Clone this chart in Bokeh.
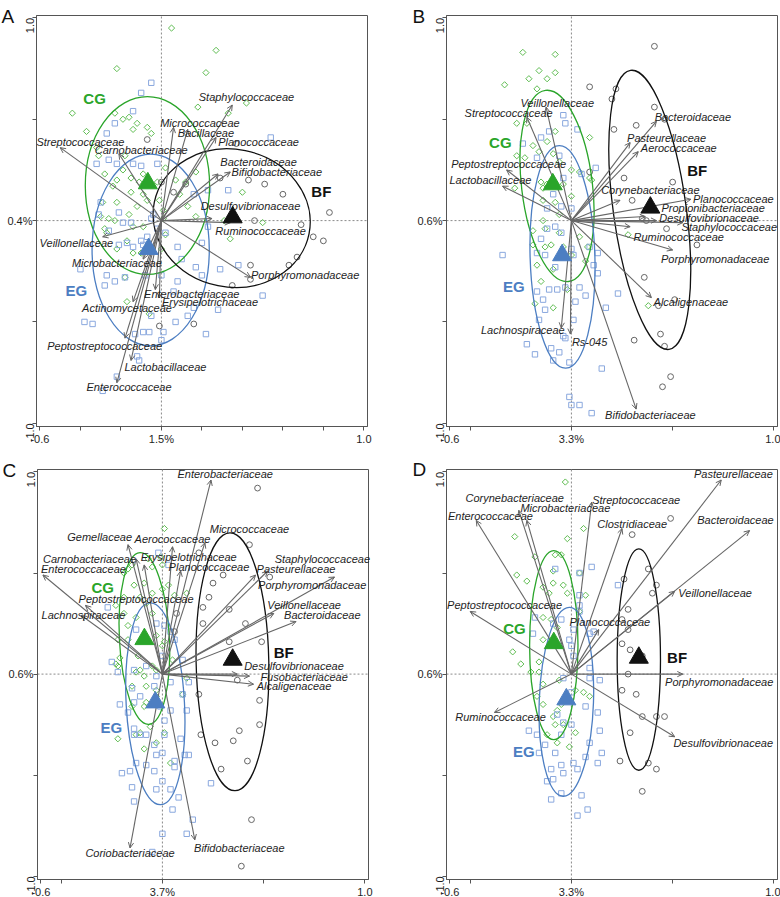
import math
from bokeh.plotting import figure
from bokeh.models import Range1d, FixedTicker, ColumnDataSource, CustomJSTickFormatter
from bokeh.layouts import row, column
from bokeh.embed import file_html
from bokeh.resources import INLINE
from bokeh.core.properties import value

FONT = "Liberation Sans"

# ---------------- Panel A ----------------
A_cg = [(0.05,0.95),(0.27,0.84),(-0.22,0.75),(0.22,0.73),(-0.44,0.53),(-0.37,0.44),(-0.23,0.53),(-0.19,0.50),(-0.16,0.51),(-0.12,0.48),(-0.14,0.45),(-0.07,0.46),(-0.05,0.43),(0.18,0.56),(0.33,0.53),(0.42,0.58),(-0.32,0.36),(-0.31,0.32),(-0.18,0.32),(-0.28,0.23),(-0.19,0.25),(-0.15,0.21),(-0.22,0.20),(-0.15,0.14),(-0.09,0.13),(-0.02,0.19),(0.02,0.26),(0.07,0.20),(0.09,0.13),(0.12,0.19),(0.17,0.24),(0.13,0.07),(0.17,0.02),(-0.01,0.10),(0.01,0.05),(0.02,-0.07),(-0.29,0.09),(-0.22,0.09),(-0.30,0.02),(-0.26,0.01),(-0.23,0.00),(-0.16,0.03),(-0.12,0.07),(-0.09,-0.03),(-0.28,-0.04),(-0.27,-0.06),(-0.14,-0.03),(-0.17,-0.10),(-0.22,-0.14),(-0.14,-0.16),(-0.10,-0.16),(-0.18,-0.28),(-0.17,-0.40),(-0.06,-0.46),(0.00,-0.14),(0.40,0.14),(0.50,-0.01),(0.34,-0.09),(0.31,0.00),(-0.11,0.19),(-0.24,0.17),(-0.09,0.23),(-0.07,0.10),(0.01,0.01)]
A_eg = [(-0.05,0.68),(-0.10,0.63),(-0.14,0.54),(-0.23,0.48),(-0.27,0.43),(0.54,0.41),(-0.32,0.28),(-0.26,0.30),(-0.22,0.28),(-0.14,0.28),(-0.10,0.27),(-0.02,0.28),(-0.30,0.09),(-0.31,0.03),(-0.21,0.04),(-0.26,-0.05),(-0.19,-0.01),(-0.15,-0.01),(-0.05,0.01),(-0.04,0.03),(-0.02,-0.04),(0.02,-0.06),(-0.17,-0.11),(-0.10,-0.10),(-0.09,-0.12),(-0.07,-0.08),(-0.14,-0.13),(-0.21,-0.12),(-0.40,-0.24),(-0.27,-0.27),(-0.28,-0.32),(-0.23,-0.30),(-0.18,-0.28),(-0.08,-0.27),(0.00,-0.27),(0.08,-0.13),(0.10,-0.19),(0.20,-0.11),(0.23,-0.03),(0.33,0.15),(0.17,-0.23),(0.20,-0.27),(0.29,-0.24),(0.38,-0.22),(0.08,-0.30),(0.06,-0.35),(0.16,-0.43),(0.28,-0.44),(0.22,-0.56),(0.50,-0.37),(-0.38,-0.50),(-0.34,-0.51),(0.07,-0.50),(0.13,-0.47),(0.01,-0.55),(-0.05,-0.47),(-0.09,-0.55),(-0.06,-0.55),(-0.13,-0.56),(0.00,-0.59),(-0.12,-0.67),(-0.11,-0.69),(-0.22,-0.77),(-0.29,-0.84),(0.23,0.15),(0.16,0.13)]
A_bf = [(-0.07,0.40),(0.00,0.19),(0.06,0.14),(0.12,0.18),(0.29,0.21),(0.43,0.20),(0.51,0.18),(0.60,0.13),(0.83,0.04),(0.75,-0.08),(0.80,-0.10),(0.69,-0.02),(0.46,0.00),(0.67,-0.18),(0.63,-0.22),(0.44,-0.22),(0.44,-0.29),(0.35,-0.32),(-0.01,-0.52),(0.16,-0.51),(0.37,0.38)]
A_taxa = ["Staphylococcaceae","Micrococcaceae","Bacillaceae","Planococcaceae","Bacteroidaceae","Bifidobacteriaceae","Desulfovibrionaceae","Ruminococcaceae","Porphyromonadaceae","Enterobacteriaceae","Erysipelotrichaceae","Actinomycetaceae","Peptostreptococcaceae","Lactobacillaceae","Enterococcaceae","Microbacteriaceae","Veillonellaceae","Streptococcaceae","Carnobacteriaceae"]
A_arrow_x = [0.35,0.06,0.13,0.27,0.28,0.34,0.25,0.34,0.44,-0.03,-0.01,-0.14,-0.18,-0.15,-0.22,-0.09,-0.29,-0.50,-0.21]
A_arrow_y = [0.57,0.46,0.45,0.41,0.23,0.24,0.01,-0.01,-0.28,-0.34,-0.38,-0.40,-0.58,-0.69,-0.80,-0.19,-0.08,0.36,0.33]
A_label_x = [0.42,0.19,0.22,0.48,0.48,0.57,0.44,0.49,0.71,0.15,0.24,-0.17,-0.28,0.02,-0.16,-0.22,-0.42,-0.40,-0.10]
A_label_y = [0.61,0.48,0.43,0.39,0.29,0.24,0.07,-0.05,-0.27,-0.36,-0.40,-0.43,-0.62,-0.72,-0.82,-0.21,-0.11,0.39,0.35]
# ellipses / centroids / group labels, order CG, EG, BF
A_ell_x = [-0.069, -0.053, 0.347]
A_ell_y = [0.173, -0.145, 0.012]
A_ell_w = [0.614, 0.579, 0.78]
A_ell_h = [0.878, 0.946, 0.68]
A_ell_a = [0.0, 0.0, -0.2]
A_cen_x = [-0.067, -0.063, 0.352]
A_cen_y = [0.184, -0.14, 0.016]
A_grp_x = [-0.33, -0.42, 0.79]
A_grp_y = [0.60, -0.345, 0.145]
A_ticks = [-0.6, -0.4, -0.2, 0.0, 0.2, 0.4, 0.6, 0.8, 1.0]
A_xcenter = "1.5%"
A_ycenter = "0.4%"

# ---------------- Panel B ----------------
B_cg = [(-0.24,0.83),(-0.08,0.82),(-0.16,0.74),(-0.08,0.73),(-0.21,0.70),(-0.12,0.70),(-0.17,0.65),(-0.33,0.67),(-0.27,0.48),(-0.22,0.48),(-0.27,0.32),(-0.23,0.31),(-0.19,0.37),(-0.16,0.34),(-0.12,0.39),(-0.08,0.44),(-0.09,0.33),(0.09,0.41),(-0.06,0.29),(0.00,0.25),(0.09,0.21),(0.10,0.20),(0.04,0.24),(-0.15,0.19),(-0.12,0.18),(-0.04,0.18),(-0.08,0.09),(-0.14,0.10),(-0.06,0.03),(-0.14,0.00),(-0.13,-0.04),(-0.19,-0.05),(-0.13,-0.13),(-0.10,-0.12),(-0.19,-0.12),(-0.17,-0.22),(-0.09,-0.24),(-0.06,-0.06),(-0.04,-0.13),(0.00,-0.17),(0.04,-0.08),(0.08,-0.13),(0.07,-0.20),(-0.02,-0.34),(-0.18,-0.41),(-0.09,-0.43),(-0.15,-0.30),(0.38,-0.42),(0.28,-0.07),(0.00,0.12),(-0.28,0.16),(-0.14,0.16)]
B_eg = [(-0.04,0.52),(-0.03,0.48),(0.03,0.45),(-0.11,0.44),(-0.15,0.41),(-0.24,0.38),(-0.17,0.31),(-0.06,0.32),(0.12,0.26),(0.05,0.23),(-0.04,0.21),(-0.09,0.13),(0.00,0.06),(-0.12,0.06),(-0.05,0.07),(-0.08,-0.03),(-0.15,-0.09),(-0.12,-0.04),(-0.05,-0.06),(-0.17,-0.16),(-0.13,-0.17),(0.00,-0.14),(0.01,-0.17),(0.09,-0.13),(0.13,-0.16),(-0.34,-0.17),(-0.08,-0.23),(0.11,-0.22),(0.13,-0.26),(0.04,-0.33),(0.07,-0.37),(0.23,-0.36),(0.17,-0.43),(-0.07,-0.34),(-0.11,-0.34),(-0.03,-0.33),(-0.17,-0.35),(-0.14,-0.39),(-0.13,-0.44),(0.02,-0.40),(0.01,-0.49),(-0.16,-0.49),(-0.04,-0.57),(-0.03,-0.58),(-0.22,-0.61),(-0.18,-0.66),(-0.10,-0.63),(-0.06,-0.65),(-0.09,-0.69),(-0.01,-0.70),(0.15,-0.73),(-0.01,-0.87),(0.00,-0.91),(0.04,-0.91),(0.10,-0.95)]
B_bf = [(0.41,0.86),(0.09,0.66),(0.22,0.65),(0.20,0.60),(0.41,0.56),(0.32,0.47),(0.21,0.45),(0.46,0.50),(0.09,0.24),(0.26,0.21),(0.50,0.19),(0.30,0.10),(0.35,0.01),(0.37,0.00),(0.47,-0.04),(0.62,-0.12),(0.36,-0.28),(0.43,-0.42),(0.51,-0.39),(0.44,-0.56),(0.31,-0.59),(0.46,-0.62),(0.49,-0.77),(0.45,-0.82)]
B_taxa = ["Veillonellaceae","Streptococcaceae","Peptostreptococcaceae","Lactobacillaceae","Bacteroidaceae","Pasteurellaceae","Aerococcaceae","Corynebacteriaceae","Planococcaceae","Propionibacteriaceae","Desulfovibrionaceae","Staphylococcaceae","Ruminococcaceae","Porphyromonadaceae","Alcaligenaceae","Lachnospiraceae","Rs-045","Bifidobacteriaceae"]
B_arrow_x = [-0.125,-0.22,-0.32,-0.34,0.42,0.29,0.33,0.24,0.59,0.365,0.42,0.55,0.29,0.50,0.395,-0.05,-0.005,0.32]
B_arrow_y = [0.56,0.51,0.25,0.17,0.49,0.385,0.34,0.10,0.105,0.02,0.00,-0.01,-0.03,-0.145,-0.38,-0.53,-0.56,-0.93]
B_label_x = [-0.07,-0.31,-0.31,-0.40,0.60,0.47,0.53,0.39,0.80,0.70,0.68,0.78,0.53,0.71,0.59,-0.24,0.09,0.39]
B_label_y = [0.58,0.53,0.28,0.20,0.51,0.41,0.36,0.15,0.105,0.06,0.015,-0.03,-0.08,-0.19,-0.40,-0.54,-0.60,-0.96]
B_ell_x = [-0.071, -0.044, 0.387]
B_ell_y = [0.171, -0.179, 0.053]
B_ell_w = [0.35, 0.32, 0.36]
B_ell_h = [0.95, 1.10, 1.39]
B_ell_a = [0.12, 0.03, 0.137]
B_cen_x = [-0.092, -0.046, 0.39]
B_cen_y = [0.179, -0.171, 0.064]
B_grp_x = [-0.351, -0.285, 0.621]
B_grp_y = [0.385, -0.326, 0.248]
B_ticks = [-0.6, -0.5, 0.0, 0.5, 1.0]
B_xcenter = "3.3%"
B_ycenter = "0.6%"

# ---------------- Panel C ----------------
C_cg = [(0.01,0.72),(0.00,0.54),(-0.01,0.58),(-0.05,0.53),(-0.07,0.57),(-0.15,0.54),(-0.17,0.52),(-0.19,0.50),(-0.14,0.44),(-0.09,0.45),(-0.11,0.38),(0.03,0.44),(0.06,0.39),(0.12,0.40),(0.00,0.42),(-0.05,0.40),(-0.08,0.35),(-0.05,0.30),(-0.19,0.38),(-0.23,0.34),(-0.19,0.30),(-0.13,0.28),(-0.17,0.24),(-0.22,0.17),(-0.17,0.17),(-0.23,0.05),(-0.22,0.04),(-0.21,0.08),(-0.12,0.09),(-0.11,0.02),(-0.13,0.01),(-0.09,-0.01),(-0.08,-0.06),(-0.15,-0.06),(-0.03,0.02),(0.00,0.14),(-0.03,0.19),(-0.05,0.04),(0.01,0.16),(0.05,0.07),(0.12,-0.02),(0.10,-0.10),(-0.03,-0.08),(-0.08,-0.14),(-0.09,-0.16),(-0.15,-0.16),(-0.11,-0.29),(-0.06,-0.26),(0.01,-0.29),(-0.22,-0.32),(-0.13,-0.30),(-0.09,-0.37),(-0.03,-0.34),(0.04,-0.44),(-0.03,-0.11)]
C_eg = [(-0.02,0.60),(0.03,0.54),(-0.27,0.33),(-0.13,0.22),(-0.03,0.25),(0.01,0.24),(0.04,0.21),(0.06,0.17),(0.00,0.09),(0.10,0.07),(0.13,-0.04),(0.10,-0.10),(0.04,-0.04),(-0.03,-0.01),(-0.08,0.04),(-0.04,-0.06),(-0.14,0.02),(-0.25,0.06),(-0.22,0.01),(-0.15,-0.07),(-0.11,-0.11),(-0.14,-0.14),(-0.21,-0.15),(-0.17,-0.19),(-0.01,-0.16),(0.01,-0.23),(0.04,-0.18),(0.12,-0.18),(-0.14,-0.27),(-0.14,-0.30),(-0.11,-0.30),(-0.08,-0.30),(0.01,-0.30),(0.09,-0.32),(-0.04,-0.35),(-0.03,-0.40),(0.06,-0.43),(0.06,-0.46),(0.00,-0.39),(0.11,-0.40),(0.13,-0.40),(-0.13,-0.44),(-0.08,-0.45),(-0.04,-0.48),(-0.16,-0.48),(-0.20,-0.49),(0.00,-0.53),(-0.15,-0.56),(-0.03,-0.57),(0.04,-0.57),(0.08,-0.61),(-0.14,-0.63),(0.05,-0.67),(0.24,-0.54),(0.15,-0.72),(0.12,-0.79),(0.00,-0.79),(-0.05,-0.88)]
C_bf = [(0.47,0.92),(0.43,0.64),(0.18,0.60),(0.30,0.49),(0.53,0.48),(0.25,0.45),(0.23,0.38),(0.20,0.33),(0.33,0.32),(0.07,0.30),(0.20,0.25),(0.41,0.25),(0.06,0.21),(0.33,0.16),(0.49,0.16),(0.37,-0.03),(0.18,-0.10),(0.48,-0.13),(0.48,-0.25),(0.38,-0.28),(0.35,-0.33),(0.19,-0.30),(0.26,-0.34),(0.42,-0.43),(0.29,-0.47),(0.44,-0.72),(0.39,-0.95)]
C_taxa = ["Enterobacteriaceae","Micrococcaceae","Gemellaceae","Aerococcaceae","Erysipelotrichaceae","Carnobacteriaceae","Enterococcaceae","Planococcaceae","Staphylococcaceae","Pasteurellaceae","Porphyromonadaceae","Peptostreptococcaceae","Lachnospiraceae","Veillonellaceae","Bacteroidaceae","Desulfovibrionaceae","Fusobacteriaceae","Alcaligenaceae","Coriobacteriaceae","Bifidobacteriaceae"]
C_arrow_x = [0.24,0.21,-0.17,0.05,-0.09,-0.13,-0.59,0.09,0.85,0.46,0.52,-0.38,-0.40,0.55,0.66,0.37,0.43,0.45,-0.16,0.16]
C_arrow_y = [0.96,0.65,0.64,0.63,0.54,0.57,0.49,0.51,0.48,0.49,0.51,0.34,0.29,0.30,0.26,0.00,-0.01,-0.05,-0.86,-0.82]
C_label_x = [0.31,0.43,-0.31,0.05,0.13,-0.36,-0.39,0.23,0.79,0.66,0.74,-0.13,-0.39,0.70,0.79,0.65,0.70,0.65,-0.16,0.38]
C_label_y = [0.99,0.72,0.68,0.67,0.58,0.57,0.52,0.53,0.57,0.52,0.44,0.37,0.29,0.34,0.29,0.04,-0.015,-0.06,-0.885,-0.86]
C_ell_x = [-0.089, -0.035, 0.346]
C_ell_y = [0.176, -0.147, 0.061]
C_ell_w = [0.247, 0.288, 0.359]
C_ell_h = [0.85, 1.0, 1.276]
C_ell_a = [0.05, 0.054, 0.02]
C_cen_x = [-0.089, -0.035, 0.347]
C_cen_y = [0.173, -0.14, 0.071]
C_grp_x = [-0.295, -0.252, 0.599]
C_grp_y = [0.428, -0.263, 0.107]
C_ticks = [-0.6, -0.5, 0.0, 0.5, 1.0]
C_xcenter = "3.7%"
C_ycenter = "0.6%"

# ---------------- Panel D ----------------
D_cg = [(-0.03,0.95),(0.06,0.72),(-0.02,0.67),(-0.28,0.68),(-0.18,0.58),(-0.08,0.59),(-0.05,0.59),(-0.27,0.49),(-0.22,0.46),(-0.09,0.51),(-0.09,0.45),(-0.14,0.43),(-0.04,0.44),(-0.11,0.40),(-0.02,0.40),(0.07,0.39),(0.04,0.50),(0.04,0.31),(-0.10,0.27),(-0.14,0.28),(-0.07,0.23),(-0.14,0.17),(-0.09,0.17),(-0.29,0.11),(-0.25,0.05),(-0.20,0.01),(-0.16,0.06),(-0.16,0.01),(-0.14,-0.05),(-0.17,-0.11),(-0.14,-0.15),(-0.09,-0.21),(-0.07,-0.18),(-0.08,-0.25),(-0.04,-0.25),(0.02,-0.29),(-0.01,-0.36),(0.02,-0.08),(0.06,-0.09),(0.09,-0.11),(-0.12,-0.30),(-0.07,-0.34),(-0.05,-0.15),(-0.06,-0.03),(-0.02,-0.12)]
D_eg = [(0.10,0.53),(-0.08,0.52),(0.04,0.50),(0.23,0.44),(0.04,0.39),(0.04,0.34),(0.04,0.31),(0.09,0.20),(0.11,0.21),(0.01,0.22),(-0.01,0.17),(-0.05,0.27),(-0.09,0.25),(-0.18,0.28),(-0.19,0.20),(-0.06,0.14),(0.00,0.14),(0.01,0.09),(0.09,0.03),(0.09,-0.02),(0.14,-0.03),(-0.04,-0.02),(0.00,-0.09),(0.07,-0.16),(0.13,-0.19),(0.14,-0.28),(0.00,-0.25),(-0.07,-0.20),(-0.04,-0.24),(-0.05,-0.30),(-0.21,-0.28),(-0.17,-0.30),(-0.13,-0.35),(-0.16,-0.39),(-0.08,-0.39),(-0.10,-0.47),(-0.05,-0.45),(-0.04,-0.49),(0.01,-0.44),(0.07,-0.41),(0.13,-0.44),(0.15,-0.39),(0.09,-0.34),(0.03,-0.47),(-0.12,-0.53),(-0.09,-0.52),(-0.10,-0.62),(-0.05,-0.59),(0.05,-0.60),(0.08,-0.67),(0.03,-0.70)]
D_bf = [(0.49,0.77),(0.30,0.69),(0.38,0.52),(0.26,0.47),(0.42,0.44),(0.40,0.40),(0.28,0.32),(0.25,0.27),(0.28,0.22),(0.25,0.15),(0.29,0.12),(0.35,0.09),(0.28,0.00),(0.25,-0.08),(0.32,-0.10),(0.35,-0.21),(0.42,-0.21),(0.46,-0.21),(0.29,-0.29),(0.24,-0.43),(0.38,-0.44),(0.42,-0.47),(0.35,-0.58)]
D_taxa = ["Pasteurellaceae","Corynebacteriaceae","Microbacteriaceae","Enterococcaceae","Streptococcaceae","Clostridiaceae","Bacteroidaceae","Veillonellaceae","Peptostreptococcaceae","Planococcaceae","Porphyromonadaceae","Ruminococcaceae","Desulfovibrionaceae"]
D_arrow_x = [0.74,-0.26,-0.22,-0.47,0.10,0.25,0.88,0.51,-0.50,0.135,0.55,-0.38,0.51]
D_arrow_y = [0.96,0.81,0.76,0.76,0.85,0.72,0.71,0.41,0.31,0.22,0.00,-0.19,-0.31]
D_label_x = [0.80,-0.28,-0.03,-0.40,0.32,0.30,0.81,0.71,-0.33,0.19,0.73,-0.35,0.75]
D_label_y = [0.99,0.87,0.82,0.78,0.86,0.74,0.76,0.40,0.34,0.26,-0.04,-0.21,-0.34]
D_ell_x = [-0.087, -0.025, 0.333]
D_ell_y = [0.143, -0.137, 0.072]
D_ell_w = [0.239, 0.268, 0.214]
D_ell_h = [0.935, 0.935, 1.095]
D_ell_a = [0.0, -0.035, 0.0]
D_cen_x = [-0.087, -0.025, 0.333]
D_cen_y = [0.153, -0.125, 0.081]
D_grp_x = [-0.281, -0.235, 0.522]
D_grp_y = [0.224, -0.385, 0.084]
D_ticks = [-0.6, -0.5, 0.0, 0.5, 1.0]
D_xcenter = "3.3%"
D_ycenter = "0.6%"

GROUPS = ["CG", "EG", "BF"]

# styling
XMIN, XMAX = -0.617, 1.018
YMIN, YMAX = -1.016, 1.012
C_MAIN = ["#2aa52a", "#4c7ec2", "#111111"]
C_PT = ["#5fbd52", "#8aa8de", "#666666"]
ARROW = "#666666"
TXT = "#1e1e1e"
AXC = "#555555"


def xs(pts):
    return [p[0] for p in pts]


def ys(pts):
    return [p[1] for p in pts]


def panel(letter, cg, eg, bf, taxa, axx, axy, lx, ly, ex, ey, ew, eh, ea,
          cx, cy, gx, gy, ticks, xcenter, ycenter,
          width, height, bl, br, bt, bb, letter_px):
    # the plotting box (XMIN..XMAX, YMIN..YMAX) occupies the inner pixel box;
    # the frame covers the whole canvas so that outside texts stay visible
    fw = width - bl - br
    fh = height - bt - bb
    ux = (XMAX - XMIN) / fw
    uy = (YMAX - YMIN) / fh
    x0, x1 = XMIN - bl * ux, XMAX + br * ux
    y0, y1 = YMIN - bb * uy, YMAX + bt * uy

    p = figure(width=width, height=height,
               x_range=Range1d(x0, x1), y_range=Range1d(y0, y1),
               output_backend="svg", toolbar_location=None,
               min_border_left=0, min_border_right=0,
               min_border_top=0, min_border_bottom=0)
    p.xgrid.visible = False
    p.ygrid.visible = False
    p.outline_line_color = None
    p.background_fill_color = "white"
    p.border_fill_color = "white"

    # axes fixed on the plotting box edges
    p.xaxis.fixed_location = YMIN
    p.yaxis.fixed_location = XMIN
    p.xaxis.bounds = (XMIN, XMAX)
    p.yaxis.bounds = (YMIN, YMAX)
    p.xaxis.ticker = FixedTicker(ticks=ticks, minor_ticks=[])
    p.yaxis.ticker = FixedTicker(ticks=[-1.0, -0.5, 0.0, 0.5, 1.0], minor_ticks=[])
    xcode = """
const v = Math.round(tick*100)/100;
if (v == -0.6) { return "-0.6"; }
if (v == 0) { return "XC"; }
if (v == 1) { return "1.0"; }
return "";
""".replace("XC", xcenter)
    ycode = """
const v = Math.round(tick*100)/100;
if (v == 1) { return "1.0"; }
if (v == -1) { return "-1.0"; }
return "";
"""
    p.xaxis.formatter = CustomJSTickFormatter(code=xcode)
    p.yaxis.formatter = CustomJSTickFormatter(code=ycode)
    p.yaxis.major_label_orientation = math.pi / 2
    for a in (p.xaxis, p.yaxis):
        a.axis_line_color = AXC
        a.major_tick_line_color = AXC
        a.major_tick_out = 4
        a.major_tick_in = 0
        a.minor_tick_line_color = None
        a.major_label_text_font = FONT
        a.major_label_text_font_size = "11px"
        a.major_label_text_color = TXT
        a.major_label_standoff = 2

    # plotting box and dotted centre lines
    p.quad(left=[XMIN], right=[XMAX], bottom=[YMIN], top=[YMAX],
           fill_color=None, line_color=AXC, line_width=1)
    p.segment(x0=[0.0, XMIN], y0=[YMIN, 0.0], x1=[0.0, XMAX], y1=[YMAX, 0.0],
              line_color="#8a8a8a", line_dash="2 2", line_width=1)

    # sample points
    p.scatter(xs(cg), ys(cg), marker="square", angle=math.pi / 4, size=4.4,
              fill_color=None, line_color=C_PT[0], line_width=1)
    p.scatter(xs(eg), ys(eg), marker="square", size=5.4,
              fill_color=None, line_color=C_PT[1], line_width=1)
    p.scatter(xs(bf), ys(bf), marker="circle", size=5.8,
              fill_color=None, line_color=C_PT[2], line_width=1)

    # ellipses
    p.ellipse(x=ex, y=ey, width=ew, height=eh, angle=ea, fill_color=None,
              line_color=C_MAIN, line_width=1.3)

    # arrows: shafts and open heads
    n = len(axx)
    L, half = 0.03, 0.45
    hx0, hy0, hx1, hy1 = [], [], [], []
    for i in range(n):
        t = math.atan2(axy[i], axx[i])
        for s in (-half, half):
            hx0.append(axx[i])
            hy0.append(axy[i])
            hx1.append(axx[i] - L * math.cos(t + s))
            hy1.append(axy[i] - L * math.sin(t + s))
    p.segment(x0=[0.0] * n, y0=[0.0] * n, x1=axx, y1=axy, line_color=ARROW, line_width=1.1)
    p.segment(x0=hx0, y0=hy0, x1=hx1, y1=hy1, line_color=ARROW, line_width=1)

    # taxa labels
    src = ColumnDataSource(dict(x=lx, y=ly, t=taxa))
    p.text(x="x", y="y", text="t", source=src, text_font=value(FONT),
           text_font_size=value("11px"), text_font_style="italic",
           text_align="center", text_baseline="middle", text_color=TXT)

    # centroids
    p.scatter(cx, cy, marker="triangle", size=19, fill_color=C_MAIN, line_color=C_MAIN)

    # group labels
    gsrc = ColumnDataSource(dict(x=gx, y=gy, t=GROUPS, c=C_MAIN))
    p.text(x="x", y="y", text="t", source=gsrc, text_font=value(FONT),
           text_font_size=value("15px"), text_font_style="bold",
           text_align="center", text_baseline="middle", text_color="c")

    # horizontal centre label of the y axis
    p.text(x=[XMIN - 4 * ux], y=[0.0], text=[ycenter], text_font=value(FONT),
           text_font_size=value("11px"), text_align="right", text_baseline="middle",
           text_color=TXT)
    # panel letter (canvas pixel position of its baseline-left corner)
    p.text(x=[x0 + letter_px[0] * ux], y=[y1 - letter_px[1] * uy], text=[letter],
           text_font=value(FONT), text_font_size=value("19px"), text_align="left",
           text_baseline="alphabetic", text_color="#111111")
    return p


pA = panel("A", A_cg, A_eg, A_bf, A_taxa, A_arrow_x, A_arrow_y, A_label_x, A_label_y,
           A_ell_x, A_ell_y, A_ell_w, A_ell_h, A_ell_a, A_cen_x, A_cen_y, A_grp_x, A_grp_y,
           A_ticks, A_xcenter, A_ycenter, 390, 448, 36, 23, 15, 22, (1, 16))
pB = panel("B", B_cg, B_eg, B_bf, B_taxa, B_arrow_x, B_arrow_y, B_label_x, B_label_y,
           B_ell_x, B_ell_y, B_ell_w, B_ell_h, B_ell_a, B_cen_x, B_cen_y, B_grp_x, B_grp_y,
           B_ticks, B_xcenter, B_ycenter, 390, 448, 56, 3, 15, 22, (22, 16))
pC = panel("C", C_cg, C_eg, C_bf, C_taxa, C_arrow_x, C_arrow_y, C_label_x, C_label_y,
           C_ell_x, C_ell_y, C_ell_w, C_ell_h, C_ell_a, C_cen_x, C_cen_y, C_grp_x, C_grp_y,
           C_ticks, C_xcenter, C_ycenter, 390, 449, 37, 22, 21, 18, (2, 22))
pD = panel("D", D_cg, D_eg, D_bf, D_taxa, D_arrow_x, D_arrow_y, D_label_x, D_label_y,
           D_ell_x, D_ell_y, D_ell_w, D_ell_h, D_ell_a, D_cen_x, D_cen_y, D_grp_x, D_grp_y,
           D_ticks, D_xcenter, D_ycenter, 390, 449, 56, 3, 21, 18, (22, 21))

layout = column(row(pA, pB), row(pC, pD))
open("out.html", "w").write(file_html(layout, INLINE))
